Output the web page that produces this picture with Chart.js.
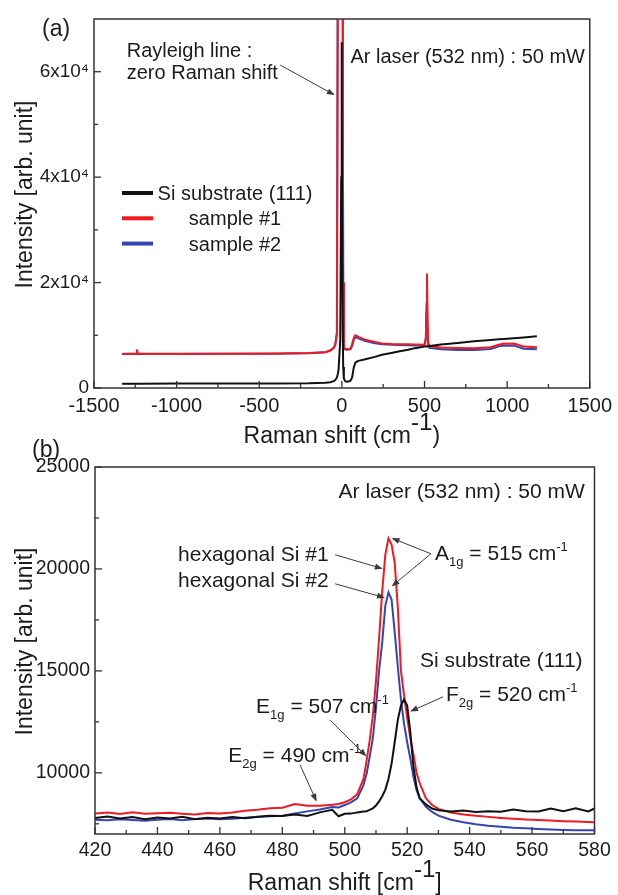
<!DOCTYPE html>
<html>
<head>
<meta charset="utf-8">
<script src="https://cdn.jsdelivr.net/npm/chart.js@4.4.1/dist/chart.umd.min.js"></script>
<style>
  body { margin: 0; background: #fff; }
  #wrap { position: relative; width: 618px; height: 895px; }
  canvas { position: absolute; left: 0; }
  #chartA { top: 0; }
  #chartB { top: 415px; }
</style>
</head>
<body>
<div id="wrap">
  <canvas id="chartA" width="618" height="450"></canvas>
  <canvas id="chartB" width="618" height="480"></canvas>
</div>
<script>

// (a) full range spectrum
const shiftA = [-1330, -1245, -1240, -1235, -1000, -700, -400, -200, -100, -70, -50, -40, -30, -25, -20, -10, -4, -2, 0, 5, 8, 12, 20, 30, 40, 52, 62, 72, 82, 90, 100, 142, 200, 242, 300, 342, 400, 442, 500, 508, 512, 515, 518, 522, 530, 600, 700, 800, 900, 950, 980, 1000, 1040, 1060, 1100, 1180];
const siA = [820, 820, 820, 820, 830, 840, 860, 900, 1000, 1100, 1300, 1500, 2000, 2600, 3500, 9000, 40000, 65600, 50000, 12000, 4000, 1800, 1300, 1200, 1250, 1400, 2000, 3900, 4800, 5000, 5150, 5460, 5900, 6290, 6650, 6920, 7250, 7560, 7850, 7870, 7880, 7900, 7900, 7920, 7950, 8250, 8550, 8850, 9100, 9230, 9300, 9350, 9450, 9500, 9600, 9800];
const s1A = [6500, 6500, 7300, 6500, 6500, 6520, 6560, 6620, 6800, 7150, 7600, 8200, 10500, 75000, 75000, 75000, 75000, 75000, 75000, 75000, 20000, 7700, 7450, 7370, 7370, 7450, 8300, 9500, 10000, 9900, 9700, 9140, 8750, 8450, 8350, 8320, 8280, 8250, 8200, 9500, 16000, 21700, 13000, 8600, 7900, 7700, 7600, 7550, 7750, 8200, 8450, 8400, 8450, 8250, 7850, 7750];
const s2A = [6450, 6450, 6450, 6450, 6450, 6480, 6520, 6580, 6760, 7100, 7550, 8150, 10400, 75000, 75000, 75000, 75000, 75000, 75000, 75000, 20000, 7500, 7300, 7250, 7300, 7350, 8000, 9100, 9650, 9600, 9400, 8900, 8500, 8300, 8200, 8150, 8100, 8080, 8050, 9200, 14500, 19000, 12000, 8300, 7600, 7350, 7200, 7200, 7400, 7900, 8050, 8000, 8050, 7850, 7450, 7350];

// (b) around the Si band
const shiftB = [420, 424, 428, 432, 436, 440, 444, 448, 452, 456, 460, 464, 468, 472, 476, 480, 484, 488, 492, 496, 498, 500, 502, 504, 506, 507, 508, 509, 510, 511, 512, 513, 514, 515, 516, 517, 518, 519, 520, 521, 522, 523, 524, 526, 528, 530, 534, 538, 542, 546, 550, 554, 558, 562, 566, 570, 574, 578, 580];
const siB = [7790, 7860, 7760, 7830, 7720, 7810, 7760, 7850, 7720, 7800, 7760, 7830, 7770, 7850, 7900, 7880, 7950, 7880, 8060, 8190, 7870, 7990, 8000, 8060, 8100, 8120, 8180, 8260, 8400, 8600, 8850, 9180, 9700, 10450, 11500, 12600, 13300, 13600, 13300, 12000, 10300, 9300, 8750, 8450, 8250, 8170, 8100, 8150, 8080, 8120, 8090, 8200, 8120, 8100, 8250, 8120, 8260, 8110, 8250];
const s1B = [8000, 8060, 7980, 8070, 7990, 8020, 8040, 7990, 7960, 8030, 8000, 8060, 8140, 8190, 8260, 8290, 8470, 8380, 8390, 8430, 8470, 8560, 8700, 8950, 9700, 10600, 11600, 12800, 14500, 16600, 18900, 20700, 21500, 21200, 20300, 18100, 15000, 13800, 12700, 11700, 10900, 10000, 9500, 8750, 8420, 8230, 8050, 7960, 7890, 7840, 7790, 7750, 7710, 7690, 7660, 7630, 7610, 7590, 7580];
const s2B = [7700, 7680, 7720, 7690, 7650, 7700, 7730, 7680, 7740, 7760, 7720, 7750, 7800, 7830, 7870, 7900, 8000, 8110, 8200, 8320, 8300, 8420, 8550, 8750, 9400, 9950, 10800, 11700, 13200, 15000, 16400, 18200, 18850, 18500, 16900, 15200, 13600, 12400, 11500, 10700, 9800, 9150, 8750, 8330, 8080, 7900, 7700, 7580, 7480, 7410, 7360, 7310, 7280, 7250, 7220, 7200, 7190, 7180, 7180];

const seriesNames = ['Si substrate (111)', 'sample #1', 'sample #2'];
const seriesColors = ['#111111', '#f01a20', '#3446b2'];

const majorXA = [-1500, -1000, -500, 0, 500, 1000, 1500];
const minorXA = [-1250, -750, -250, 250, 750, 1250];
const majorYA = [0, 20000, 40000, 60000];
const minorYA = [10000, 30000, 50000];
const labelsYA = ['0', '2x10\u2074', '4x10\u2074', '6x10\u2074'];

const majorXB = [420, 440, 460, 480, 500, 520, 540, 560, 580];
const minorXB = [430, 450, 470, 490, 510, 530, 550, 570];
const majorYB = [10000, 15000, 20000, 25000];
const minorYB = [7500, 12500, 17500, 22500];

const FONT = '"Liberation Sans", Arial, sans-serif';
const INK = '#1c1c1c';
Chart.defaults.font.family = FONT;
Chart.defaults.color = INK;

function series(xs, ys) {
	return xs.map(function (x, i) { return { x: x, y: ys[i] }; });
}

function datasets(xs, list) {
	return list.map(function (ys, i) {
		return {
			label: seriesNames[i],
			data: series(xs, ys),
			borderColor: seriesColors[i],
			borderWidth: 2,
			pointRadius: 0,
			tension: 0
		};
	});
}

function axis(min, max, major, minor, labels, size, pad, fit) {
	return {
		type: 'linear',
		min: min,
		max: max,
		grid: { display: false, drawTicks: false },
		border: { display: false },
		afterBuildTicks: function (scale) {
			scale.ticks = major.concat(minor).sort(function (a, b) { return a - b; })
				.map(function (v) { return { value: v }; });
		},
		afterFit: fit,
		ticks: {
			autoSkip: false,
			maxRotation: 0,
			padding: pad,
			font: { size: size },
			callback: function (v) {
				const k = major.indexOf(v);
				if (k < 0) return '';
				return labels ? labels[k] : String(v);
			}
		}
	};
}

// text with sub / superscripts: parts = [[text, kind], ...]
function drawRich(ctx, parts, x, y, size, align) {
	const styles = { '': [1, 0], sub: [0.62, 0.3], sup: [0.62, -0.42], big: [1.05, -0.55] };
	let total = 0;
	parts.forEach(function (p) {
		ctx.font = (size * styles[p[1] || ''][0]) + 'px ' + FONT;
		total += ctx.measureText(p[0]).width;
	});
	let cx = x;
	if (align === 'right') cx = x - total;
	if (align === 'center') cx = x - total / 2;
	ctx.textAlign = 'left';
	ctx.textBaseline = 'alphabetic';
	parts.forEach(function (p) {
		const s = styles[p[1] || ''];
		ctx.font = (size * s[0]) + 'px ' + FONT;
		ctx.fillText(p[0], cx, y + size * s[1]);
		cx += ctx.measureText(p[0]).width;
	});
}

function arrow(ctx, x1, y1, x2, y2) {
	const ang = Math.atan2(y2 - y1, x2 - x1), h = 8, w = 3;
	ctx.beginPath();
	ctx.moveTo(x1, y1);
	ctx.lineTo(x2 - h * 0.7 * Math.cos(ang), y2 - h * 0.7 * Math.sin(ang));
	ctx.stroke();
	ctx.beginPath();
	ctx.moveTo(x2, y2);
	ctx.lineTo(x2 - h * Math.cos(ang) + w * Math.sin(ang), y2 - h * Math.sin(ang) - w * Math.cos(ang));
	ctx.lineTo(x2 - h * Math.cos(ang) - w * Math.sin(ang), y2 - h * Math.sin(ang) + w * Math.cos(ang));
	ctx.closePath();
	ctx.fill();
}

// frame, inward ticks, titles, notes and arrows
function decor(cfg) {
	return {
		id: 'decor',
		afterDatasetsDraw: function (chart) {
			const ctx = chart.ctx, a = chart.chartArea;
			const sx = chart.scales.x, sy = chart.scales.y;
			ctx.save();

			ctx.strokeStyle = '#333';
			ctx.lineWidth = 1.5;
			ctx.strokeRect(a.left, a.top, a.right - a.left, a.bottom - a.top);
			ctx.lineWidth = 1.3;
			sx.ticks.forEach(function (t) {
				const p = sx.getPixelForValue(t.value), len = t.label ? 7 : 4;
				ctx.beginPath(); ctx.moveTo(p, a.bottom); ctx.lineTo(p, a.bottom - len); ctx.stroke();
			});
			sy.ticks.forEach(function (t) {
				const p = sy.getPixelForValue(t.value), len = t.label ? 7 : 4;
				ctx.beginPath(); ctx.moveTo(a.left, p); ctx.lineTo(a.left + len, p); ctx.stroke();
			});

			ctx.fillStyle = INK;
			drawRich(ctx, cfg.xTitle, (a.left + a.right) / 2, a.bottom + cfg.xTitleGap, 23, 'center');
			ctx.save();
			ctx.translate(31.5, (a.top + a.bottom) / 2 - 9);
			ctx.rotate(-Math.PI / 2);
			drawRich(ctx, [['Intensity [arb. unit]']], 0, 0, 23, 'center');
			ctx.restore();
			drawRich(ctx, [[cfg.panel]], cfg.panelPos[0], cfg.panelPos[1], 23, 'left');

			cfg.notes.forEach(function (n) {
				drawRich(ctx, n.parts, sx.getPixelForValue(n.x), sy.getPixelForValue(n.y), cfg.noteSize, n.align || 'left');
			});
			ctx.strokeStyle = '#3a3a3a';
			ctx.fillStyle = '#3a3a3a';
			ctx.lineWidth = 1;
			cfg.arrows.forEach(function (r) {
				arrow(ctx, sx.getPixelForValue(r[0]), sy.getPixelForValue(r[1]),
					sx.getPixelForValue(r[2]), sy.getPixelForValue(r[3]));
			});

			if (cfg.legend) {
				chart.data.datasets.forEach(function (ds, i) {
					const y = a.top + 174 + i * 25.3;
					ctx.strokeStyle = ds.borderColor;
					ctx.lineWidth = 4;
					ctx.beginPath(); ctx.moveTo(a.left + 28, y); ctx.lineTo(a.left + 59, y); ctx.stroke();
					ctx.fillStyle = INK;
					drawRich(ctx, [[ds.label]], a.left + 141, y + 7, 20, 'center');
				});
			}
			ctx.restore();
		}
	};
}

function baseOptions(padding, scales) {
	return {
		responsive: false,
		animation: false,
		devicePixelRatio: 1,
		events: [],
		layout: { padding: padding },
		plugins: { legend: { display: false }, tooltip: { enabled: false } },
		scales: scales
	};
}

new Chart(document.getElementById('chartA'), {
	type: 'line',
	data: { datasets: datasets(shiftA, [siA, s1A, s2A]) },
	options: baseOptions({ top: 19, right: 23.5, left: 0, bottom: 0 }, {
		x: axis(-1500, 1500, majorXA, minorXA, null, 20, 6, function (s) { s.height = 62; }),
		y: axis(0, 70000, majorYA, minorYA, labelsYA, 19, 5, function (s) { s.width = 94; })
	}),
	plugins: [decor({
		panel: '(a)',
		panelPos: [42, 36],
		xTitle: [['Raman shift (cm'], ['-1', 'big'], [')']],
		xTitleGap: 55,
		noteSize: 20,
		legend: true,
		notes: [
			{ x: -1302, y: 62850, parts: [['Rayleigh line :']] },
			{ x: -1302, y: 58620, parts: [['zero Raman shift']] },
			{ x: 52, y: 61710, parts: [['Ar laser (532 nm) : 50 mW']] }
		],
		arrows: [[-373, 61270, -43, 55560]]
	})]
});

new Chart(document.getElementById('chartB'), {
	type: 'line',
	data: { datasets: datasets(shiftB, [siB, s1B, s2B]) },
	options: baseOptions({ top: 52, right: 23.5, left: 0, bottom: 0 }, {
		x: axis(420, 580, majorXB, minorXB, null, 19.5, 5, function (s) { s.height = 61; }),
		y: axis(7000, 25000, majorYB, minorYB, null, 19.5, 5, function (s) { s.width = 95; })
	}),
	plugins: [decor({
		panel: '(b)',
		panelPos: [32, 42],
		xTitle: [['Raman shift [cm'], ['-1', 'big'], [']']],
		xTitleGap: 56,
		noteSize: 21,
		legend: false,
		notes: [
			{ x: 576.9, y: 23494, align: 'right', parts: [['Ar laser (532 nm) : 50 mW']] },
			{ x: 446.6, y: 20402, parts: [['hexagonal Si #1']] },
			{ x: 446.6, y: 19125, parts: [['hexagonal Si #2']] },
			{ x: 528.9, y: 20451, parts: [['A'], ['1g', 'sub'], [' = 515 cm'], ['-1', 'sup']] },
			{ x: 524.1, y: 15198, parts: [['Si substrate (111)']] },
			{ x: 532.4, y: 13529, parts: [['F'], ['2g', 'sub'], [' = 520 cm'], ['-1', 'sup']] },
			{ x: 471.6, y: 12925, parts: [['E'], ['1g', 'sub'], [' = 507 cm'], ['-1', 'sup']] },
			{ x: 462.7, y: 10549, parts: [['E'], ['2g', 'sub'], [' = 490 cm'], ['-1', 'sup']] }
		],
		arrows: [
			[496.9, 20696, 512.2, 20009],
			[496.9, 19273, 512.9, 18585],
			[527.6, 20745, 515.0, 21516],
			[527.6, 20745, 515.0, 19140],
			[531.5, 13725, 520.9, 13004],
			[495.3, 12596, 507.0, 10795],
			[485.7, 10387, 491.0, 8586]
		]
	})]
});

</script>
</body>
</html>
